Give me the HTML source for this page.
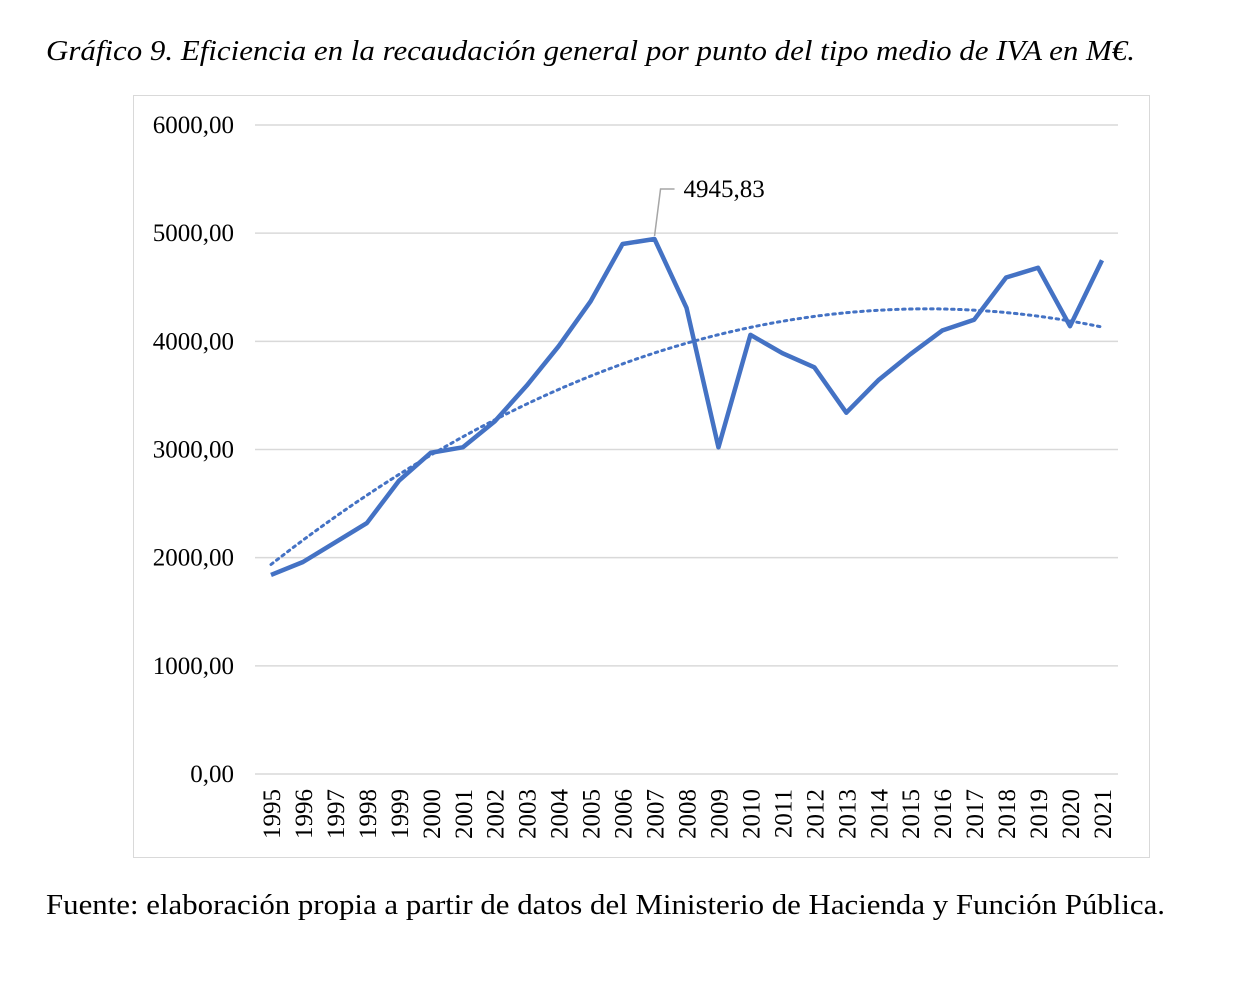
<!DOCTYPE html>
<html><head><meta charset="utf-8"><style>
body{margin:0;background:#fff;width:1252px;height:982px;overflow:hidden;font-family:"Liberation Serif",serif}
</style></head><body>
<svg width="1252" height="982" xmlns="http://www.w3.org/2000/svg">
<text x="46" y="60" font-size="28" font-style="italic" font-family="Liberation Serif" textLength="1089" lengthAdjust="spacingAndGlyphs">Gráfico 9. Eficiencia en la recaudación general por punto del tipo medio de IVA en M€.</text>
<rect x="133.5" y="95.5" width="1016" height="762" fill="none" stroke="#d9d9d9"/>
<g id="grid"></g><g id="ylab"></g><g id="xlab"></g>
<path id="trend" fill="none" stroke="#4472c4" stroke-width="3" stroke-dasharray="2.5 4.5" stroke-linecap="round"/>
<path id="line" fill="none" stroke="#4472c4" stroke-width="4.5" stroke-linejoin="round"/>
<g id="ann"></g>
<text x="46" y="914" font-size="29" font-family="Liberation Serif" textLength="1119" lengthAdjust="spacingAndGlyphs">Fuente: elaboración propia a partir de datos del Ministerio de Hacienda y Función Pública.</text>
</svg>
<script>
const years=[1995,1996,1997,1998,1999,2000,2001,2002,2003,2004,2005,2006,2007,2008,2009,2010,2011,2012,2013,2014,2015,2016,2017,2018,2019,2020,2021];
const values=[1840,1960,2140,2320,2710,2970,3020,3260,3590,3955,4370,4900,4945.83,4310,3020,4060,3890,3760,3340,3640,3880,4100,4200,4590,4680,4140,4750];
const yTicks=[0,1000,2000,3000,4000,5000,6000];
const yTickLabels=["0,00","1000,00","2000,00","3000,00","4000,00","5000,00","6000,00"];
const NS="http://www.w3.org/2000/svg";
const x=i=>271+i*(831/26), y=v=>774-v*(649/6000);
const mk=(t,a,p)=>{const e=document.createElementNS(NS,t);for(const k in a)e.setAttribute(k,a[k]);p.appendChild(e);return e;};
const grid=document.getElementById('grid'),yl=document.getElementById('ylab'),xl=document.getElementById('xlab');
yTicks.forEach((v,i)=>{
 const g=mk('line',{x1:255,x2:1118,y1:y(v),y2:y(v),stroke:'#d9d9d9','stroke-width':1.5},grid);
 
 
 const t=mk('text',{x:234,y:y(v)+8,'text-anchor':'end','font-size':25},yl);t.textContent=yTickLabels[i];
 
 
});
years.forEach((yr,i)=>{
 const t=mk('text',{transform:`translate(${x(i)+9},789) rotate(-90)`,'text-anchor':'end','font-size':25},xl);t.textContent=yr;
 
 
});
document.getElementById('line').setAttribute('d',values.map((v,i)=>(i?'L':'M')+x(i)+','+y(v)).join(''));
let n=values.length,S=[0,0,0,0,0],T=[0,0,0];
values.forEach((v,i)=>{const t=i+1;for(let k=0;k<5;k++)S[k]+=t**k;for(let k=0;k<3;k++)T[k]+=v*t**k;});
const M=[[S[0],S[1],S[2],T[0]],[S[1],S[2],S[3],T[1]],[S[2],S[3],S[4],T[2]]];
for(let c=0;c<3;c++){for(let r=c+1;r<3;r++){const f=M[r][c]/M[c][c];for(let k=c;k<4;k++)M[r][k]-=f*M[c][k];}}
const co=[0,0,0];for(let r=2;r>=0;r--){let s=M[r][3];for(let k=r+1;k<3;k++)s-=M[r][k]*co[k];co[r]=s/M[r][r];}
let d='';for(let i=0;i<=260;i++){const t=1+i*26/260;const v=co[0]+co[1]*t+co[2]*t*t;d+=(i?'L':'M')+(271+(t-1)*831/26)+','+y(v);}
document.getElementById('trend').setAttribute('d',d);
const ann=document.getElementById('ann');const pi=values.indexOf(Math.max(...values));
const l=mk('path',{d:`M${x(pi)},${y(values[pi])-3}L${x(pi)+6},${y(values[pi])-50}L${x(pi)+20},${y(values[pi])-50}`,fill:'none',stroke:'#a6a6a6','stroke-width':1.5},ann);


const at=mk('text',{x:x(pi)+29,y:y(values[pi])-42,'font-size':25},ann);at.textContent=String(values[pi]).replace('.',',');


</script>
</body></html>
